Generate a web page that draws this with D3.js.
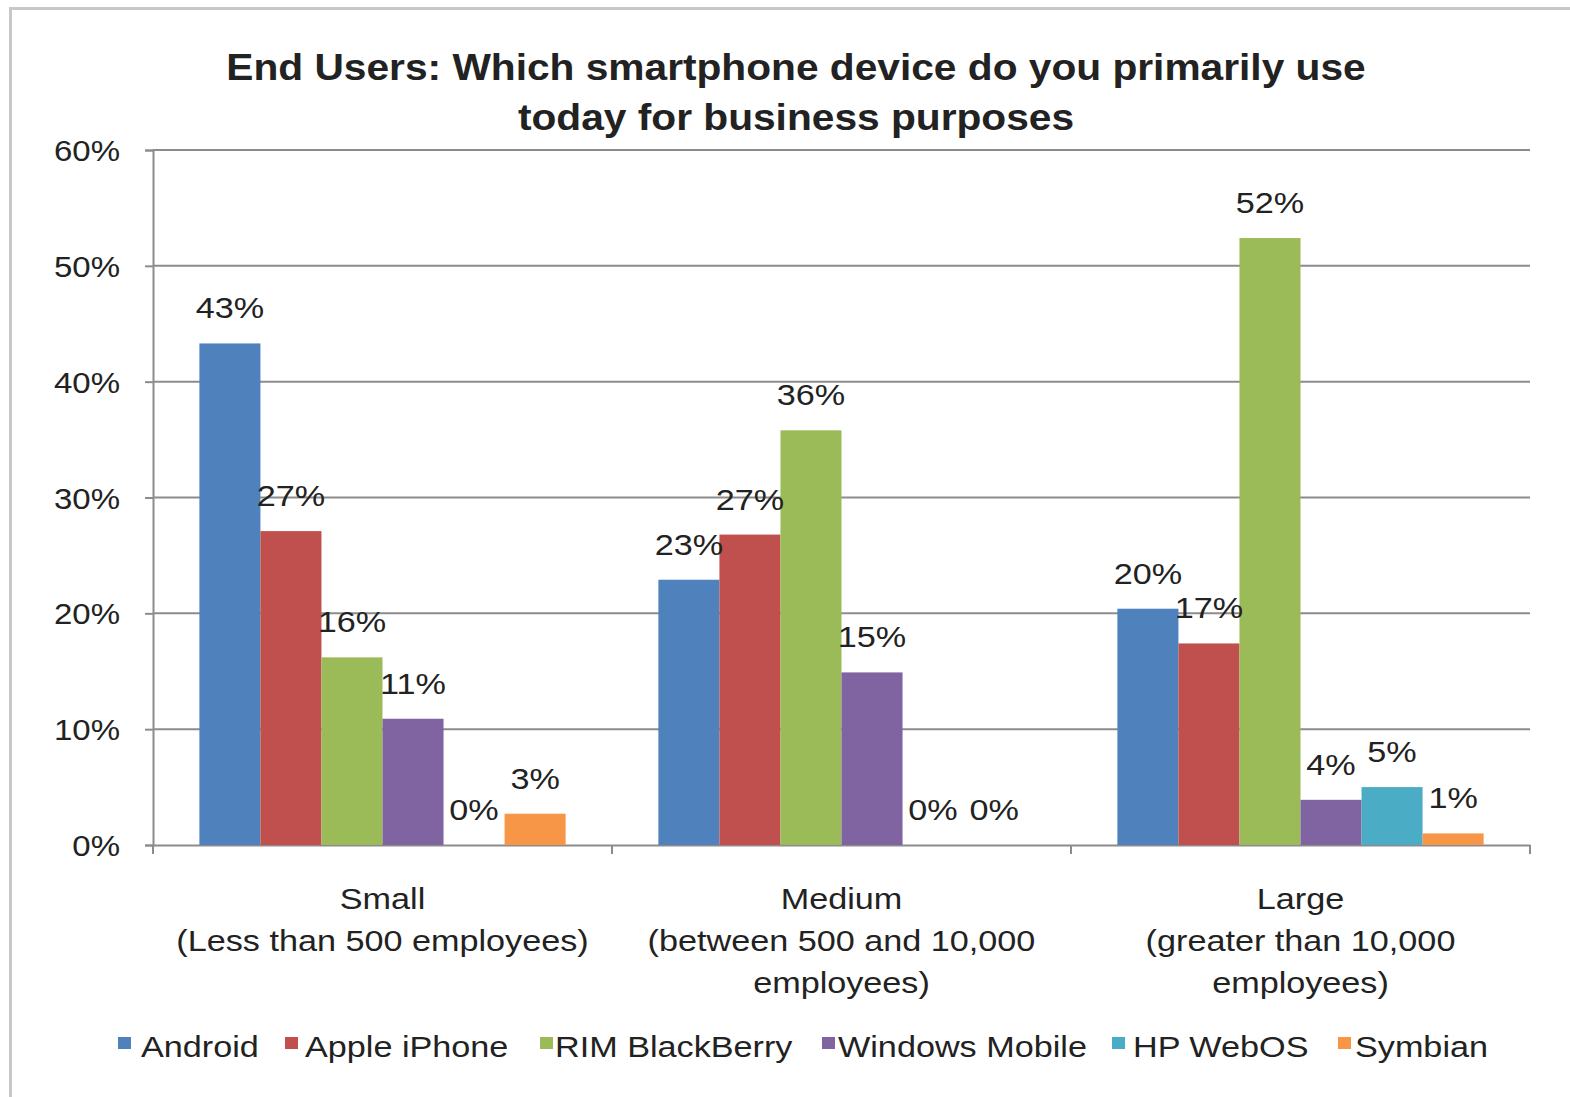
<!DOCTYPE html>
<html>
<head>
<meta charset="utf-8">
<script src="https://cdn.jsdelivr.net/npm/d3@7"></script>
<style>
  body { margin: 0; background: #fff; }
  text { font-family: "Liberation Sans", Arial, sans-serif; fill: #222; }
</style>
</head>
<body>
<svg id="chart" width="1570" height="1097"></svg>
<script>
const groups = ['Small', 'Medium', 'Large']
const groupLabels = [
  ['Small', '(Less than 500 employees)'],
  ['Medium', '(between 500 and 10,000', 'employees)'],
  ['Large', '(greater than 10,000', 'employees)']
]
const series = ['Android', 'Apple iPhone', 'RIM BlackBerry', 'Windows Mobile', 'HP WebOS', 'Symbian']
const colors = ['#4f81bd', '#c0504d', '#9bbb59', '#8064a2', '#4bacc6', '#f79646']
// percent values per series, in group order Small / Medium / Large
const android = [43.3, 22.9, 20.4]
const iphone = [27.1, 26.8, 17.4]
const blackberry = [16.2, 35.8, 52.4]
const windowsMobile = [10.9, 14.9, 3.9]
const webOS = [0, 0, 5.0]
const symbian = [2.7, 0, 1.0]
const yTicks = [0, 10, 20, 30, 40, 50, 60]

const values = [android, iphone, blackberry, windowsMobile, webOS, symbian]

// the source picture is a bit stretched sideways, so text gets widened too
const stretch = 1.14

function label(parent, x, y, txt, size, anchor, sx) {
  return parent.append('text')
    .attr('transform', `translate(${x}, ${y}) scale(${sx || stretch}, 1)`)
    .attr('text-anchor', anchor || 'middle')
    .attr('font-size', size)
    .text(txt)
}

const svg = d3.select('#chart')
const margin = { left: 153, right: 40, top: 150, bottom: 252 }
const width = 1570 - margin.left - margin.right
const height = 1097 - margin.top - margin.bottom

// outer frame
svg.append('rect')
  .attr('x', 10.5).attr('y', 8.5)
  .attr('width', 1600).attr('height', 1200)
  .attr('fill', 'none')
  .attr('stroke', '#c8c8c8')
  .attr('stroke-width', 3)

label(svg, 796, 80, 'End Users: Which smartphone device do you primarily use', 37, 'middle', 1.1)
  .attr('font-weight', 'bold')
label(svg, 796, 130, 'today for business purposes', 37, 'middle', 1.1)
  .attr('font-weight', 'bold')

const chart = svg.append('g')
  .attr('transform', `translate(${margin.left}, ${margin.top})`)

const x0 = d3.scaleBand().domain(groups).range([0, width]).paddingInner(0).paddingOuter(0)
const x1 = d3.scaleBand().domain(series).range([0, x0.bandwidth()]).paddingOuter(0.76)
const y = d3.scaleLinear().domain([0, 60]).range([height, 0])

// gridlines
chart.append('g')
  .selectAll('line')
  .data(yTicks.slice(1))
  .enter().append('line')
  .attr('x1', 0).attr('x2', width)
  .attr('y1', d => y(d)).attr('y2', d => y(d))
  .attr('stroke', '#8c8c8c')
  .attr('stroke-width', 2)

// y axis
const yAxis = chart.append('g')
  .call(d3.axisLeft(y).tickValues(yTicks).tickSize(8).tickFormat(''))
yAxis.select('.domain').attr('stroke', '#8c8c8c').attr('stroke-width', 2)
yAxis.selectAll('.tick line').attr('stroke', '#8c8c8c').attr('stroke-width', 2)
yTicks.forEach(t => {
  label(chart, -33, y(t) + 11, t + '%', 30, 'end', 1.1)
})

// x axis
const xAxis = chart.append('g')
  .attr('transform', `translate(0, ${height})`)
  .call(d3.axisBottom(x0).tickSize(0).tickFormat(''))
xAxis.select('.domain').attr('stroke', '#8c8c8c').attr('stroke-width', 2)
chart.append('g')
  .selectAll('line')
  .data(d3.range(groups.length + 1))
  .enter().append('line')
  .attr('x1', i => i * x0.bandwidth()).attr('x2', i => i * x0.bandwidth())
  .attr('y1', height).attr('y2', height + 9)
  .attr('stroke', '#8c8c8c')
  .attr('stroke-width', 2)

groupLabels.forEach((lines, gi) => {
  lines.forEach((ln, li) => {
    label(chart, x0(groups[gi]) + x0.bandwidth() / 2, height + 64 + li * 42, ln, 30)
  })
})

// bars
const data = []
groups.forEach((g, gi) => {
  series.forEach((s, si) => {
    data.push({ group: g, series: s, idx: si, value: values[si][gi] })
  })
})

chart.selectAll('rect.bar')
  .data(data.filter(d => d.value > 0))
  .enter().append('rect')
  .attr('class', 'bar')
  .attr('x', d => x0(d.group) + x1(d.series))
  .attr('y', d => y(d.value))
  .attr('width', x1.bandwidth())
  .attr('height', d => height - y(d.value))
  .attr('fill', d => colors[d.idx])

// value labels; zero values without a label in the picture are skipped
const labelled = data.filter(d => d.value > 0 ||
  (d.group === 'Small' && d.series === 'HP WebOS') || d.group === 'Medium')
labelled.forEach(d => {
  label(chart, x0(d.group) + x1(d.series) + x1.bandwidth() / 2, y(d.value) - 25,
    Math.round(d.value) + '%', 30)
})

// legend
const swatchX = [118, 285, 540, 822, 1112, 1338]
const legendTextX = [141, 305, 555, 838, 1133, 1355]
const legend = svg.append('g')
series.forEach((s, i) => {
  legend.append('rect')
    .attr('x', swatchX[i]).attr('y', 1037)
    .attr('width', 13).attr('height', 12)
    .attr('fill', colors[i])
  label(legend, legendTextX[i], 1057, s, 30, 'start')
})
</script>
</body>
</html>
